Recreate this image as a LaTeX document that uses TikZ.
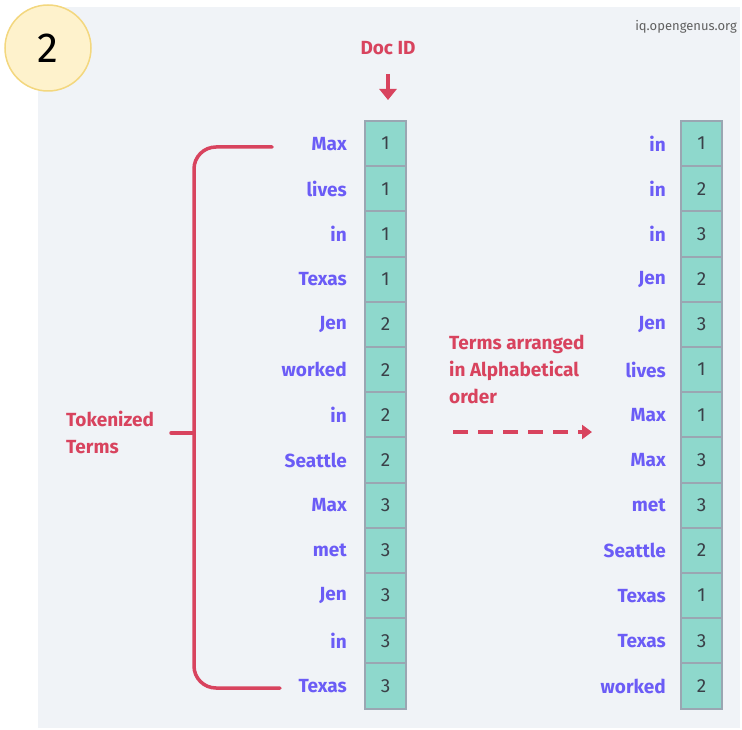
\documentclass[tikz,border=0pt]{standalone}
\usepackage{fontspec}
\setmainfont{Fira Sans}
\usetikzlibrary{arrows.meta}
\definecolor{panel}{HTML}{F0F3F7}
\definecolor{cellfill}{HTML}{8ED8CC}
\definecolor{cellline}{HTML}{9AA6B2}
\definecolor{term}{HTML}{6B5CF6}
\definecolor{accent}{HTML}{D8435E}
\definecolor{badgefill}{HTML}{FEF2CC}
\definecolor{badgeline}{HTML}{F3D77E}
\definecolor{numtext}{HTML}{3A4048}
\tikzset{
  cell/.style={draw=cellline, line width=2pt, fill=cellfill, minimum width=41pt, minimum height=45.2pt, inner sep=0pt, font=\fontsize{19}{21}\selectfont, text=numtext},
  termlbl/.style={anchor=east, font=\bfseries\fontsize{19}{21}\selectfont, text=term, inner sep=0pt},
  redtxt/.style={font=\bfseries\fontsize{19}{27}\selectfont, text=accent, inner sep=0pt},
  redline/.style={draw=accent, line width=3.5pt, line cap=round}
}
\begin{document}
\begin{tikzpicture}[x=1pt,y=-1pt]
\useasboundingbox (0,0) rectangle (742,730);
\fill[panel] (38,7) rectangle (740,728);
\node[circle, fill=badgefill, draw=badgeline, line width=1.5pt, minimum size=86pt, inner sep=0pt, font=\fontsize{42}{44}\selectfont] (badge) at (48,48) {2};
\node[anchor=east, text=gray!75!black, font=\fontsize{13}{15}\selectfont, inner sep=0pt] (site) at (737,27) {iq.opengenus.org};
% left column
\foreach \w/\d [count=\i] in {Max/1,lives/1,in/1,Texas/1,Jen/2,worked/2,in/2,Seattle/2,Max/3,met/3,Jen/3,in/3,Texas/3} {
  \node[cell] (L\i) at (385.5,{121+45.2*(\i-0.5)}) {\d};
  \node[termlbl] (LT\i) at (347,{121+45.2*(\i-0.5)}) {\w};
}
% right column
\foreach \w/\d [count=\i] in {in/1,in/2,in/3,Jen/2,Jen/3,lives/1,Max/1,Max/3,met/3,Seattle/2,Texas/1,Texas/3,worked/2} {
  \node[cell] (R\i) at (701.5,{121+45.2*(\i-0.5)}) {\d};
  \node[termlbl] (RT\i) at (666,{121+45.2*(\i-0.5)}) {\w};
}
% Doc ID
\node[redtxt] (docid) at (388,48) {Doc ID};
\coordinate (aa) at (388,74);
\coordinate (ab) at (388,100);
\draw[accent, line width=3.5pt, -{Triangle[length=11pt,width=17pt]}] (aa) -- (ab);
% bracket
\coordinate (btop) at (272,147);
\coordinate (bbot) at (280,688);
\coordinate (bmid) at (194,433);
\coordinate (btick) at (171,433);
\draw[redline, rounded corners=22pt] (btop) -- (194,147) -- (194,688) -- (bbot);
\draw[redline] (btick) -- (bmid);
\node[redtxt, anchor=west, align=left] (tok) at (66,432) {Tokenized\\Terms};
% arranged note
\node[redtxt, anchor=west, align=left] (note) at (449,369) {Terms arranged\\in Alphabetical\\order};
\coordinate (da) at (453,432);
\coordinate (db) at (592,432);
\draw[accent, line width=3.5pt, dash pattern=on 15pt off 10pt, -{Triangle[length=10pt,width=14pt]}] (da) -- (db);
\end{tikzpicture}
\end{document}
